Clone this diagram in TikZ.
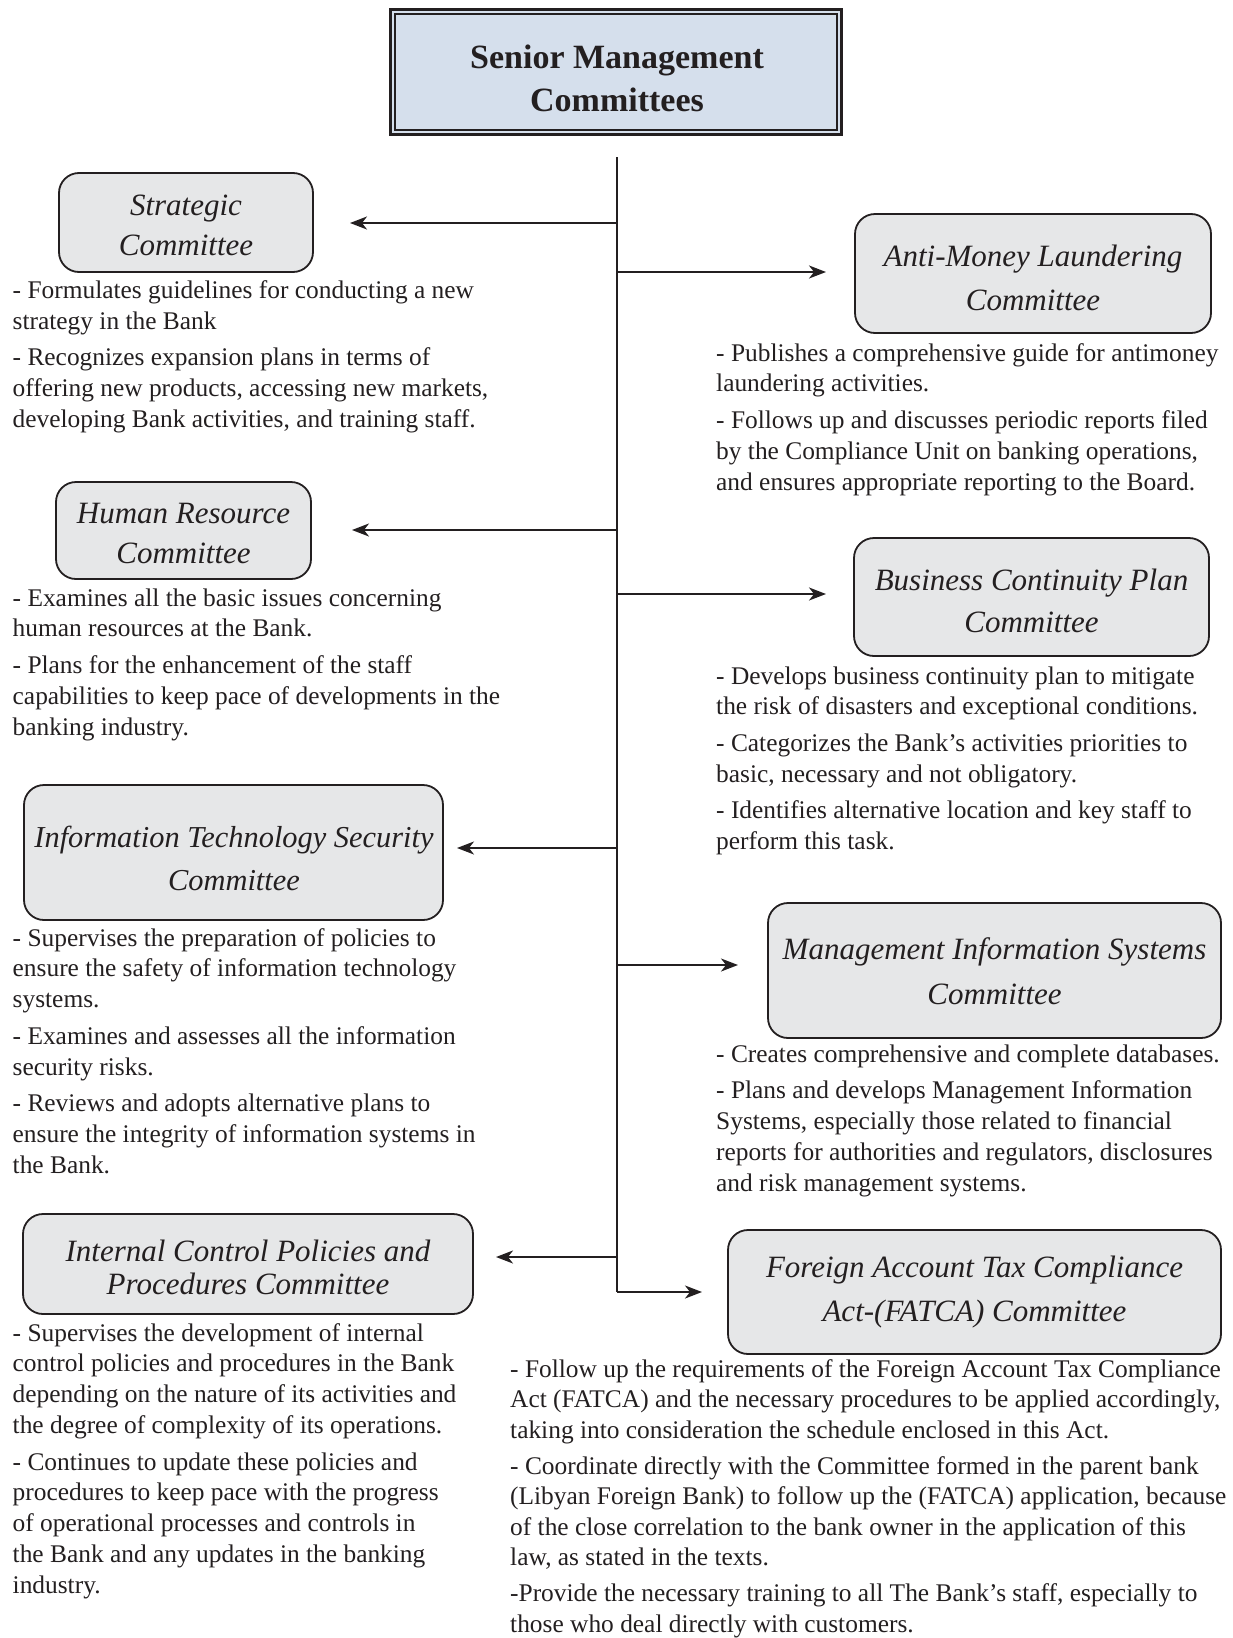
\documentclass[tikz,border=0pt]{standalone}
\usepackage{fontspec}
\setmainfont{Liberation Serif}
\usetikzlibrary{arrows.meta}
\definecolor{ink}{HTML}{231F20}
\definecolor{boxgrey}{HTML}{E6E7E8}
\definecolor{titleblue}{HTML}{D5DFEC}
\begin{document}
\begin{tikzpicture}[x=1pt,y=-1pt,
  cbox/.style={draw=ink, line width=1.8pt, fill=boxgrey, rounded corners=20pt, inner sep=0pt},
  clabel/.style={align=center, text=ink, inner sep=0pt},
  arr/.style={draw=ink, line width=1.8pt, -{Stealth[length=17pt,width=13pt,inset=5pt]}},
  trunk/.style={draw=ink, line width=1.8pt},
  body/.style={anchor=base west, inner sep=0pt, text=ink, font=\fontsize{25.4}{30.8}\selectfont}]
\useasboundingbox (0,0) rectangle (1233,1638);

% title
\node[draw=ink, line width=3pt, fill=titleblue, minimum width=451pt, minimum height=125pt, inner sep=0pt] (title) at (616,72) {};
\draw[ink, line width=1.4pt] ([shift={(6,6)}]title.north west) rectangle ([shift={(-6,-6)}]title.south east);
\node[align=center, text=ink, font=\fontsize{34}{43}\selectfont\bfseries] (titletext) at (617,78.5) {Senior Management\\Committees};

% committee boxes
\node[cbox, minimum width=254pt, minimum height=99pt] (strat) at (186,222.5) {};
\node[cbox, minimum width=356pt, minimum height=119pt] (aml) at (1033,273.5) {};
\node[cbox, minimum width=255pt, minimum height=97pt] (hr) at (183.5,530.5) {};
\node[cbox, minimum width=355pt, minimum height=118pt] (bcp) at (1031.5,597) {};
\node[cbox, minimum width=419pt, minimum height=135pt] (its) at (233.5,852.5) {};
\node[cbox, minimum width=453pt, minimum height=135pt] (mis) at (994.5,970.5) {};
\node[cbox, minimum width=450pt, minimum height=100pt] (icp) at (248,1264) {};
\node[cbox, minimum width=493pt, minimum height=124pt] (fatca) at (974.5,1292) {};

% committee names
\node[clabel, font=\fontsize{31}{40}\selectfont\itshape] (stratlbl) at (186,225.1) {Strategic\\Committee};
\node[clabel, font=\fontsize{31}{44}\selectfont\itshape] (amllbl) at (1033,277.7) {Anti-Money Laundering\\Committee};
\node[clabel, font=\fontsize{31}{40}\selectfont\itshape] (hrlbl) at (183.5,533.6) {Human Resource\\Committee};
\node[clabel, font=\fontsize{31}{42}\selectfont\itshape] (bcplbl) at (1031.5,601.2) {Business Continuity Plan\\Committee};
\node[clabel, font=\fontsize{30.4}{43}\selectfont\itshape] (itslbl) at (234,858.2) {Information Technology Security\\Committee};
\node[clabel, font=\fontsize{31}{45}\selectfont\itshape] (mislbl) at (994.5,971) {Management Information Systems\\Committee};
\node[clabel, font=\fontsize{31}{33}\selectfont\itshape] (icplbl) at (248,1267.1) {Internal Control Policies and\\Procedures Committee};
\node[clabel, font=\fontsize{31}{44}\selectfont\itshape] (fatcalbl) at (974.5,1292) {Foreign Account Tax Compliance\\Act-(FATCA) Committee};

% trunk and branches
\coordinate (ttop) at (617,157);
\coordinate (tbot) at (617,1292);
\draw[trunk] (ttop) -- (tbot);
\coordinate (bS) at (617,223);  \coordinate (tS) at (350,223);
\coordinate (bA) at (617,272);  \coordinate (tA) at (826,272);
\coordinate (bH) at (617,530);  \coordinate (tH) at (352,530);
\coordinate (bB) at (617,594);  \coordinate (tB) at (826,594);
\coordinate (bI) at (617,848);  \coordinate (tI) at (457,848);
\coordinate (bM) at (617,965);  \coordinate (tM) at (738,965);
\coordinate (bC) at (617,1257); \coordinate (tC) at (496,1257);
\coordinate (tF) at (702,1292);
\draw[arr] (bS) -- (tS);
\draw[arr] (bA) -- (tA);
\draw[arr] (bH) -- (tH);
\draw[arr] (bB) -- (tB);
\draw[arr] (bI) -- (tI);
\draw[arr] (bM) -- (tM);
\draw[arr] (bC) -- (tC);
\draw[arr] (tbot) -- (tF);

% descriptions
\node[body] (stratText) at (12.5,298.5) {\parbox[t]{700pt}{\raggedright
- Formulates guidelines for conducting a new\\
strategy in the Bank\\[5.8pt]
- Recognizes expansion plans in terms of\\
offering new products, accessing new markets,\\
developing Bank activities, and training staff.}};

\node[body] (amlText) at (716,361) {\parbox[t]{700pt}{\raggedright
- Publishes a comprehensive guide for antimoney\\
laundering activities.\\[5.8pt]
- Follows up and discusses periodic reports filed\\
by the Compliance Unit on banking operations,\\
and ensures appropriate reporting to the Board.}};

\node[body] (hrText) at (12.5,606) {\parbox[t]{700pt}{\raggedright
- Examines all the basic issues concerning\\
human resources at the Bank.\\[5.8pt]
- Plans for the enhancement of the staff\\
capabilities to keep pace of developments in the\\
banking industry.}};

\node[body] (bcpText) at (716,684) {\parbox[t]{700pt}{\raggedright
- Develops business continuity plan to mitigate\\
the risk of disasters and exceptional conditions.\\[5.8pt]
- Categorizes the Bank's activities priorities to\\
basic, necessary and not obligatory.\\[5.8pt]
- Identifies alternative location and key staff to\\
perform this task.}};

\node[body] (itsText) at (12.5,946) {\parbox[t]{700pt}{\raggedright
- Supervises the preparation of policies to\\
ensure the safety of information technology\\
systems.\\[5.8pt]
- Examines and assesses all the information\\
security risks.\\[5.8pt]
- Reviews and adopts alternative plans to\\
ensure the integrity of information systems in\\
the Bank.}};

\node[body] (misText) at (716,1062) {\parbox[t]{700pt}{\raggedright
- Creates comprehensive and complete databases.\\[5.8pt]
- Plans and develops Management Information\\
Systems, especially those related to financial\\
reports for authorities and regulators, disclosures\\
and risk management systems.}};

\node[body] (icpText) at (12.5,1341) {\parbox[t]{700pt}{\raggedright
- Supervises the development of internal\\
control policies and procedures in the Bank\\
depending on the nature of its activities and\\
the degree of complexity of its operations.\\[5.8pt]
- Continues to update these policies and\\
procedures to keep pace with the progress\\
of operational processes and controls in\\
the Bank and any updates in the banking\\
industry.}};

\node[body, font=\fontsize{25.4}{30.5}\selectfont] (fatcaText) at (510,1377) {\parbox[t]{760pt}{\raggedright
- Follow up the requirements of the Foreign Account Tax Compliance\\
Act (FATCA) and the necessary procedures to be applied accordingly,\\
taking into consideration the schedule enclosed in this Act.\\[5.5pt]
- Coordinate directly with the Committee formed in the parent bank\\
(Libyan Foreign Bank) to follow up the (FATCA) application, because\\
of the close correlation to the bank owner in the application of this\\
law, as stated in the texts.\\[5.5pt]
-Provide the necessary training to all The Bank’s staff, especially to\\
those who deal directly with customers.}};
\end{tikzpicture}
\end{document}
